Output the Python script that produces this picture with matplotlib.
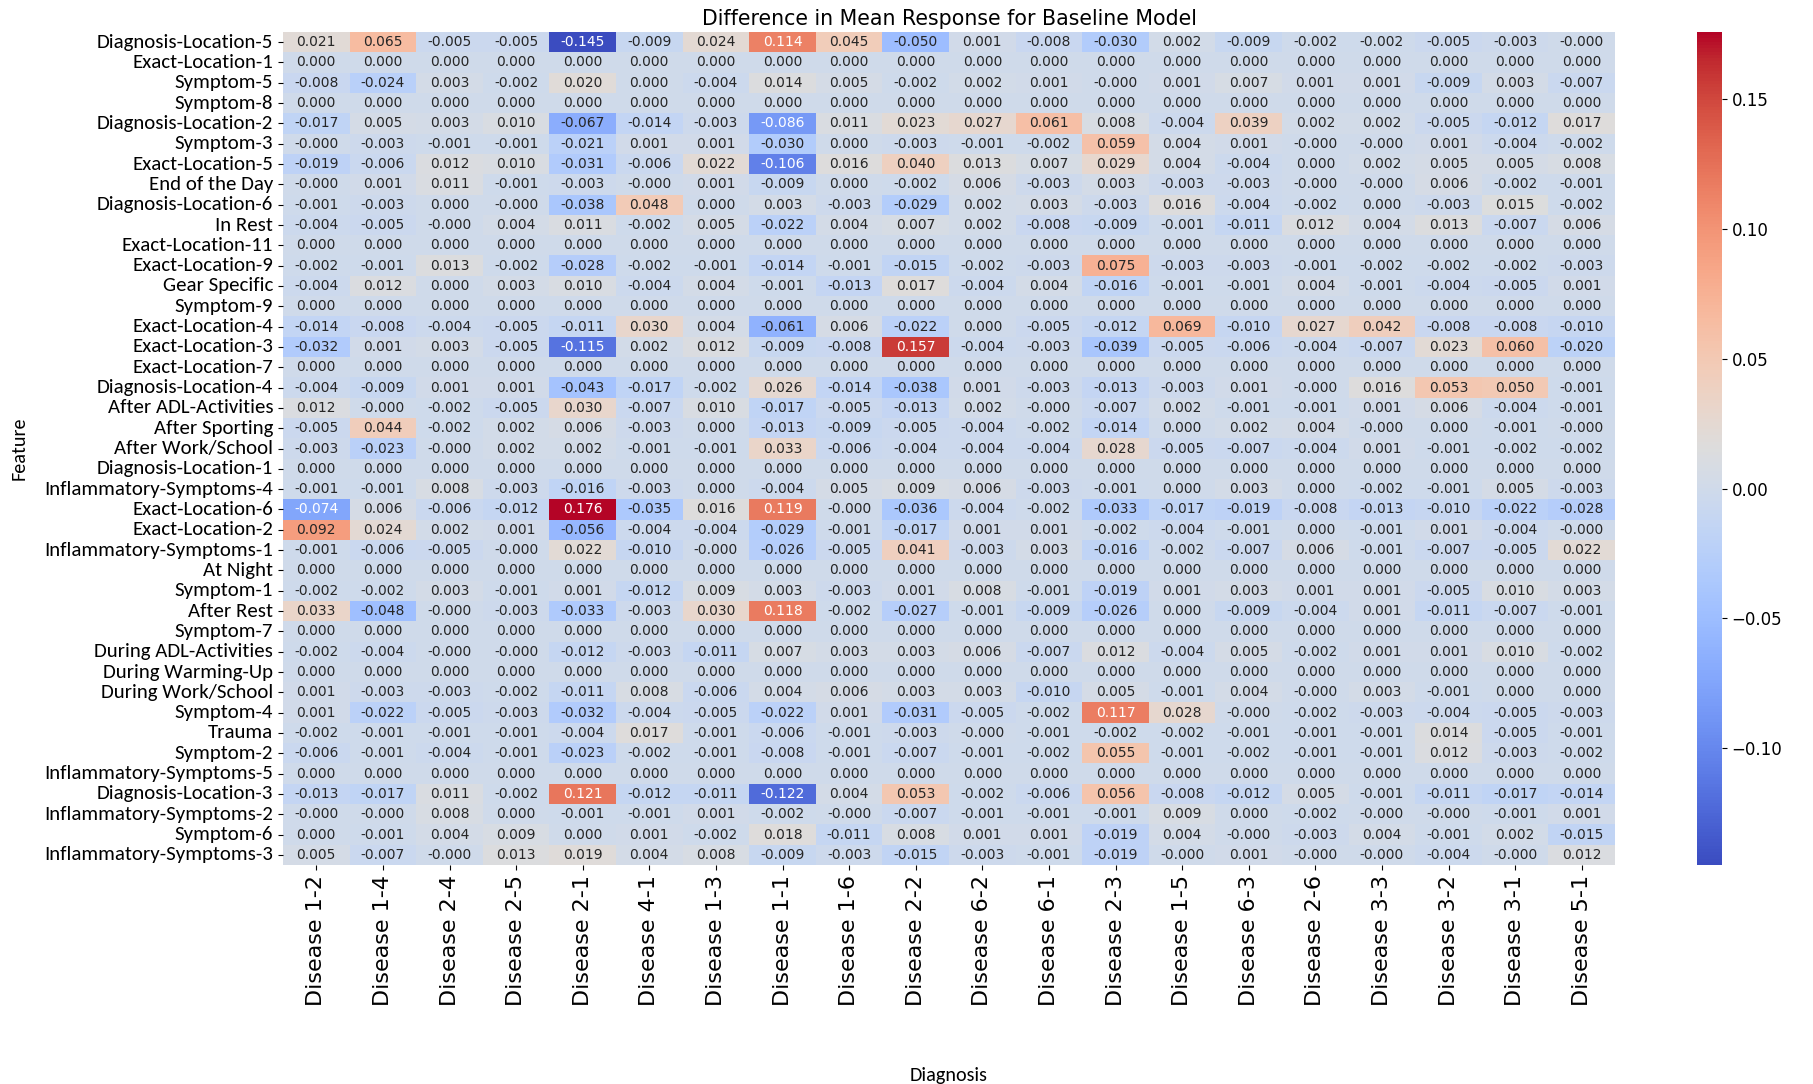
import numpy as np
import matplotlib
matplotlib.use("Agg")
import matplotlib.pyplot as plt
import seaborn as sns

diagnoses = ["Disease 1-2", "Disease 1-4", "Disease 2-4", "Disease 2-5", "Disease 2-1",
             "Disease 4-1", "Disease 1-3", "Disease 1-1", "Disease 1-6", "Disease 2-2",
             "Disease 6-2", "Disease 6-1", "Disease 2-3", "Disease 1-5", "Disease 6-3",
             "Disease 2-6", "Disease 3-3", "Disease 3-2", "Disease 3-1", "Disease 5-1"]

features = ["Diagnosis-Location-5", "Exact-Location-1", "Symptom-5", "Symptom-8",
            "Diagnosis-Location-2", "Symptom-3", "Exact-Location-5", "End of the Day",
            "Diagnosis-Location-6", "In Rest", "Exact-Location-11", "Exact-Location-9",
            "Gear Specific", "Symptom-9", "Exact-Location-4", "Exact-Location-3",
            "Exact-Location-7", "Diagnosis-Location-4", "After ADL-Activities", "After Sporting",
            "After Work/School", "Diagnosis-Location-1", "Inflammatory-Symptoms-4",
            "Exact-Location-6", "Exact-Location-2", "Inflammatory-Symptoms-1", "At Night",
            "Symptom-1", "After Rest", "Symptom-7", "During ADL-Activities",
            "During Warming-Up", "During Work/School", "Symptom-4", "Trauma", "Symptom-2",
            "Inflammatory-Symptoms-5", "Diagnosis-Location-3", "Inflammatory-Symptoms-2",
            "Symptom-6", "Inflammatory-Symptoms-3"]

# small negative residuals (shown as -0.000) are kept as -0.0001
z = -0.0001
zeros = [0.0] * 20
diff_values = [
    [0.021, 0.065, -0.005, -0.005, -0.145, -0.009, 0.024, 0.114, 0.045, -0.050,
     0.001, -0.008, -0.030, 0.002, -0.009, -0.002, -0.002, -0.005, -0.003, z],
    zeros,
    [-0.008, -0.024, 0.003, -0.002, 0.020, 0.000, -0.004, 0.014, 0.005, -0.002,
     0.002, 0.001, z, 0.001, 0.007, 0.001, 0.001, -0.009, 0.003, -0.007],
    zeros,
    [-0.017, 0.005, 0.003, 0.010, -0.067, -0.014, -0.003, -0.086, 0.011, 0.023,
     0.027, 0.061, 0.008, -0.004, 0.039, 0.002, 0.002, -0.005, -0.012, 0.017],
    [z, -0.003, -0.001, -0.001, -0.021, 0.001, 0.001, -0.030, 0.000, -0.003,
     -0.001, -0.002, 0.059, 0.004, 0.001, z, z, 0.001, -0.004, -0.002],
    [-0.019, -0.006, 0.012, 0.010, -0.031, -0.006, 0.022, -0.106, 0.016, 0.040,
     0.013, 0.007, 0.029, 0.004, -0.004, 0.000, 0.002, 0.005, 0.005, 0.008],
    [z, 0.001, 0.011, -0.001, -0.003, z, 0.001, -0.009, 0.000, -0.002,
     0.006, -0.003, 0.003, -0.003, -0.003, z, z, 0.006, -0.002, -0.001],
    [-0.001, -0.003, 0.000, z, -0.038, 0.048, 0.000, 0.003, -0.003, -0.029,
     0.002, 0.003, -0.003, 0.016, -0.004, -0.002, 0.000, -0.003, 0.015, -0.002],
    [-0.004, -0.005, z, 0.004, 0.011, -0.002, 0.005, -0.022, 0.004, 0.007,
     0.002, -0.008, -0.009, -0.001, -0.011, 0.012, 0.004, 0.013, -0.007, 0.006],
    zeros,
    [-0.002, -0.001, 0.013, -0.002, -0.028, -0.002, -0.001, -0.014, -0.001, -0.015,
     -0.002, -0.003, 0.075, -0.003, -0.003, -0.001, -0.002, -0.002, -0.002, -0.003],
    [-0.004, 0.012, 0.000, 0.003, 0.010, -0.004, 0.004, -0.001, -0.013, 0.017,
     -0.004, 0.004, -0.016, -0.001, -0.001, 0.004, -0.001, -0.004, -0.005, 0.001],
    zeros,
    [-0.014, -0.008, -0.004, -0.005, -0.011, 0.030, 0.004, -0.061, 0.006, -0.022,
     0.000, -0.005, -0.012, 0.069, -0.010, 0.027, 0.042, -0.008, -0.008, -0.010],
    [-0.032, 0.001, 0.003, -0.005, -0.115, 0.002, 0.012, -0.009, -0.008, 0.157,
     -0.004, -0.003, -0.039, -0.005, -0.006, -0.004, -0.007, 0.023, 0.060, -0.020],
    zeros,
    [-0.004, -0.009, 0.001, 0.001, -0.043, -0.017, -0.002, 0.026, -0.014, -0.038,
     0.001, -0.003, -0.013, -0.003, 0.001, z, 0.016, 0.053, 0.050, -0.001],
    [0.012, z, -0.002, -0.005, 0.030, -0.007, 0.010, -0.017, -0.005, -0.013,
     0.002, z, -0.007, 0.002, -0.001, -0.001, 0.001, 0.006, -0.004, -0.001],
    [-0.005, 0.044, -0.002, 0.002, 0.006, -0.003, 0.000, -0.013, -0.009, -0.005,
     -0.004, -0.002, -0.014, 0.000, 0.002, 0.004, z, 0.000, -0.001, z],
    [-0.003, -0.023, z, 0.002, 0.002, -0.001, -0.001, 0.033, -0.006, -0.004,
     -0.004, -0.004, 0.028, -0.005, -0.007, -0.004, 0.001, -0.001, -0.002, -0.002],
    zeros,
    [-0.001, -0.001, 0.008, -0.003, -0.016, -0.003, 0.000, -0.004, 0.005, 0.009,
     0.006, -0.003, -0.001, 0.000, 0.003, 0.000, -0.002, -0.001, 0.005, -0.003],
    [-0.074, 0.006, -0.006, -0.012, 0.176, -0.035, 0.016, 0.119, z, -0.036,
     -0.004, -0.002, -0.033, -0.017, -0.019, -0.008, -0.013, -0.010, -0.022, -0.028],
    [0.092, 0.024, 0.002, 0.001, -0.056, -0.004, -0.004, -0.029, -0.001, -0.017,
     0.001, 0.001, -0.002, -0.004, -0.001, 0.000, -0.001, 0.001, -0.004, z],
    [-0.001, -0.006, -0.005, z, 0.022, -0.010, z, -0.026, -0.005, 0.041,
     -0.003, 0.003, -0.016, -0.002, -0.007, 0.006, -0.001, -0.007, -0.005, 0.022],
    zeros,
    [-0.002, -0.002, 0.003, -0.001, 0.001, -0.012, 0.009, 0.003, -0.003, 0.001,
     0.008, -0.001, -0.019, 0.001, 0.003, 0.001, 0.001, -0.005, 0.010, 0.003],
    [0.033, -0.048, z, -0.003, -0.033, -0.003, 0.030, 0.118, -0.002, -0.027,
     -0.001, -0.009, -0.026, 0.000, -0.009, -0.004, 0.001, -0.011, -0.007, -0.001],
    zeros,
    [-0.002, -0.004, z, z, -0.012, -0.003, -0.011, 0.007, 0.003, 0.003,
     0.006, -0.007, 0.012, -0.004, 0.005, -0.002, 0.001, 0.001, 0.010, -0.002],
    zeros,
    [0.001, -0.003, -0.003, -0.002, -0.011, 0.008, -0.006, 0.004, 0.006, 0.003,
     0.003, -0.010, 0.005, -0.001, 0.004, z, 0.003, -0.001, 0.000, 0.000],
    [0.001, -0.022, -0.005, -0.003, -0.032, -0.004, -0.005, -0.022, 0.001, -0.031,
     -0.005, -0.002, 0.117, 0.028, z, -0.002, -0.003, -0.004, -0.005, -0.003],
    [-0.002, -0.001, -0.001, -0.001, -0.004, 0.017, -0.001, -0.006, -0.001, -0.003,
     z, -0.001, -0.002, -0.002, -0.001, -0.001, -0.001, 0.014, -0.005, -0.001],
    [-0.006, -0.001, -0.004, -0.001, -0.023, -0.002, -0.001, -0.008, -0.001, -0.007,
     -0.001, -0.002, 0.055, -0.001, -0.002, -0.001, -0.001, 0.012, -0.003, -0.002],
    zeros,
    [-0.013, -0.017, 0.011, -0.002, 0.121, -0.012, -0.011, -0.122, 0.004, 0.053,
     -0.002, -0.006, 0.056, -0.008, -0.012, 0.005, -0.001, -0.011, -0.017, -0.014],
    [z, z, 0.008, 0.000, -0.001, -0.001, 0.001, -0.002, z, -0.007,
     -0.001, -0.001, -0.001, 0.009, 0.000, -0.002, z, z, -0.001, 0.001],
    [0.000, -0.001, 0.004, 0.009, 0.000, 0.001, -0.002, 0.018, -0.011, 0.008,
     0.001, 0.001, -0.019, 0.004, z, -0.003, 0.004, -0.001, 0.002, -0.015],
    [0.005, -0.007, z, 0.013, 0.019, 0.004, 0.008, -0.009, -0.003, -0.015,
     -0.003, -0.001, -0.019, z, 0.001, z, z, -0.004, z, 0.012],
]

data = np.array(diff_values)

calibri_like = ["Carlito", "DejaVu Sans"]

fig = plt.figure(figsize=(18.13, 10.84), dpi=100)
ax = fig.add_axes([0.1561, 0.202, 0.7347, 0.7685])
cax = fig.add_axes([0.936, 0.202, 0.0138, 0.7685])

sns.heatmap(data, ax=ax, cbar_ax=cax, cmap="coolwarm", annot=True, fmt=".3f",
            annot_kws={"fontsize": 10, "family": "DejaVu Sans"},
            xticklabels=diagnoses, yticklabels=features)

ax.set_title("Difference in Mean Response for Baseline Model", fontsize=14.8, pad=5)
ax.set_xlabel("Diagnosis", fontsize=14.5, labelpad=44, family=calibri_like)
ax.set_ylabel("Feature", fontsize=14.5, labelpad=12, family=calibri_like)
ax.set_xticklabels(diagnoses, rotation=90, fontsize=16, family="DejaVu Sans")
ax.set_yticklabels(features, rotation=0, fontsize=15, family=calibri_like)
cax.tick_params(labelsize=12)

fig.savefig("out.png", dpi=100)
